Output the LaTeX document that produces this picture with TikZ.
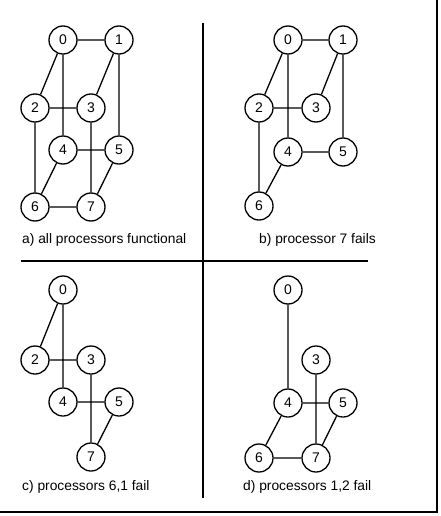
\documentclass[tikz,border=0pt]{standalone}
\usepackage{fontspec}
\setmainfont{Liberation Sans}
\begin{document}
\begin{tikzpicture}[x=1pt,y=-1pt,
  proc/.style={circle,draw,line width=1.3pt,fill=white,minimum size=28pt,inner sep=0pt,font=\fontsize{14}{16}\selectfont},
  link/.style={line width=1.3pt},
  rule/.style={line width=1.4pt},
  pcap/.style={anchor=west,inner sep=0pt,font=\fontsize{13.8}{16}\selectfont}]
\useasboundingbox (0,0) rectangle (440,516);
% frame and dividers
\coordinate (fr1) at (437,0);
\coordinate (fr2) at (437,512);
\coordinate (fr3) at (0,512);
\draw[line width=1.8pt] (fr1) -- (fr2) -- (fr3);
\coordinate (v1) at (203,23);
\coordinate (v2) at (203,498);
\draw[rule] (v1) -- (v2);
\coordinate (h1) at (21,261);
\coordinate (h2) at (368,261);
\draw[rule] (h1) -- (h2);
% panel a
\node[proc] (a0) at (63,40) {0};
\node[proc] (a1) at (119,40) {1};
\node[proc] (a2) at (35,108) {2};
\node[proc] (a3) at (91,108) {3};
\node[proc] (a4) at (63,150) {4};
\node[proc] (a5) at (119,150) {5};
\node[proc] (a6) at (35,207) {6};
\node[proc] (a7) at (91,207) {7};
\draw[link] (a0)--(a1) (a0)--(a2) (a0)--(a4) (a1)--(a3) (a1)--(a5) (a2)--(a3) (a2)--(a6) (a3)--(a7) (a4)--(a5) (a4)--(a6) (a5)--(a7) (a6)--(a7);
\node[pcap] (la) at (22,240) {a) all processors functional};
% panel b
\node[proc] (b0) at (288,40) {0};
\node[proc] (b1) at (343,40) {1};
\node[proc] (b2) at (259,108) {2};
\node[proc] (b3) at (316,108) {3};
\node[proc] (b4) at (288,152) {4};
\node[proc] (b5) at (343,152) {5};
\node[proc] (b6) at (259,206) {6};
\draw[link] (b0)--(b1) (b0)--(b2) (b0)--(b4) (b1)--(b3) (b1)--(b5) (b2)--(b3) (b2)--(b6) (b4)--(b5) (b4)--(b6);
\node[pcap] (lb) at (259,240) {b) processor 7 fails};
% panel c
\node[proc] (c0) at (63,290) {0};
\node[proc] (c2) at (35,360) {2};
\node[proc] (c3) at (91,360) {3};
\node[proc] (c4) at (63,402) {4};
\node[proc] (c5) at (119,402) {5};
\node[proc] (c7) at (91,457) {7};
\draw[link] (c0)--(c2) (c0)--(c4) (c2)--(c3) (c3)--(c7) (c4)--(c5) (c5)--(c7);
\node[pcap] (lc) at (22,487) {c) processors 6,1 fail};
% panel d
\node[proc] (d0) at (288,290) {0};
\node[proc] (d3) at (316,360) {3};
\node[proc] (d4) at (288,403) {4};
\node[proc] (d5) at (343,403) {5};
\node[proc] (d6) at (259,458) {6};
\node[proc] (d7) at (316,458) {7};
\draw[link] (d0)--(d4) (d3)--(d7) (d4)--(d5) (d4)--(d6) (d5)--(d7) (d6)--(d7);
\node[pcap] (ld) at (243,487) {d) processors 1,2 fail};
\end{tikzpicture}
\end{document}
